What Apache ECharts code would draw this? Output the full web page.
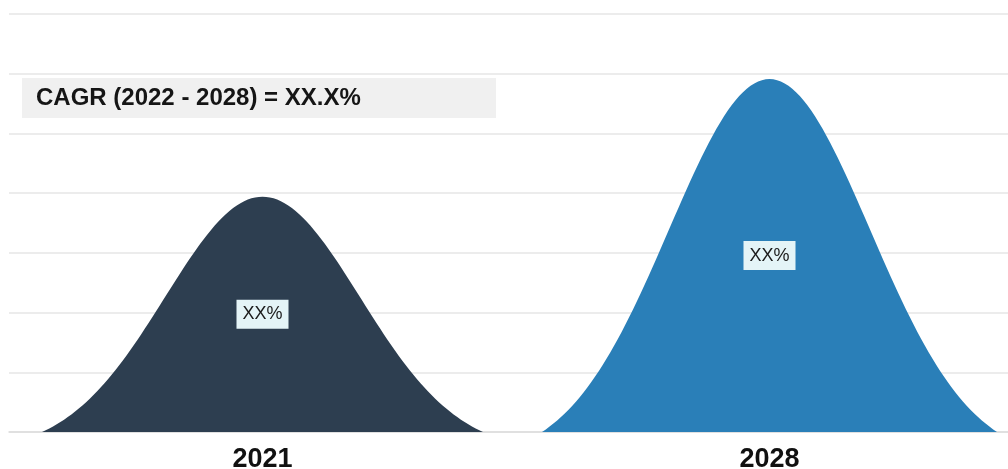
<!DOCTYPE html>
<html>
<head>
<meta charset="utf-8">
<style>
  html, body { margin: 0; padding: 0; background: #ffffff; }
  #chart { width: 1008px; height: 469px; }
</style>
<script src="https://cdn.jsdelivr.net/npm/echarts@6/dist/echarts.min.js"></script>
</head>
<body>
<div id="chart"></div>
<script>
// ---- data ----
const categories = ['2021', '2028'];
const values = [39.4, 59.1];
const valueLabels = ['XX%', 'XX%'];
const cagrText = 'CAGR (2022 - 2028) = XX.X%';
const yTicks = { min: 0, max: 70, interval: 10 };

// ---- styles ----
const colors = ['#2d3e50', '#2a7fb8'];
const bellWidths = [441, 455];

// bell-shaped symbol outline (shape only, scaled by ECharts to each bar)
function bellPath() {
  const k = 1.6, e0 = Math.exp(-k * k);
  const N = 120;
  let p = 'path://M0,1000';
  for (let i = 0; i <= N; i++) {
    const d = 2 * i / N - 1;
    const h = (Math.exp(-(k * d) * (k * d)) - e0) / (1 - e0);
    p += ' L' + (500 * (d + 1)).toFixed(2) + ',' + (1000 * (1 - h)).toFixed(2);
  }
  return p + ' Z';
}
const bell = bellPath();

const chart = echarts.init(document.getElementById('chart'));
chart.setOption({
  animation: false,
  backgroundColor: '#ffffff',
  grid: { left: 9, width: 1014, top: 14, bottom: 37, containLabel: false, outerBoundsMode: 'none' },
  xAxis: {
    type: 'category',
    data: categories,
    axisLine: { show: true, lineStyle: { color: '#dcdcdc', width: 1.5 } },
    axisTick: { show: false },
    axisLabel: {
      margin: 14,
      fontSize: 27,
      fontWeight: 'bold',
      color: '#111111',
      fontFamily: 'Liberation Sans, Arial, sans-serif'
    }
  },
  yAxis: {
    type: 'value',
    min: yTicks.min,
    max: yTicks.max,
    interval: yTicks.interval,
    axisLine: { show: false },
    axisTick: { show: false },
    axisLabel: { show: false },
    splitLine: { show: true, lineStyle: { color: '#e6e6e6', width: 1.5 } }
  },
  series: [{
    type: 'pictorialBar',
    symbol: bell,
    symbolPosition: 'start',
    z: 10,
    label: {
      show: true,
      position: 'inside',
      fontSize: 18,
      color: '#1a1a1a',
      fontFamily: 'Liberation Sans, Arial, sans-serif',
      backgroundColor: '#e4f4f7',
      padding: [5, 6, 4, 6],
      lineHeight: 20,
      formatter: (p) => valueLabels[p.dataIndex]
    },
    data: values.map((v, i) => ({
      value: v,
      symbolSize: [bellWidths[i], '100%'],
      itemStyle: { color: colors[i] }
    }))
  }],
  graphic: [{
    type: 'group',
    left: 22,
    top: 78,
    z: 100,
    children: [{
      type: 'rect',
      shape: { x: 0, y: 0, width: 474, height: 40 },
      style: { fill: '#f0f0f0' }
    }, {
      type: 'text',
      x: 14,
      y: 20,
      style: {
        text: cagrText,
        fill: '#151515',
        font: 'bold 24px "Liberation Sans", Arial, sans-serif',
        verticalAlign: 'middle',
        align: 'left'
      }
    }]
  }]
});
</script>
</body>
</html>
